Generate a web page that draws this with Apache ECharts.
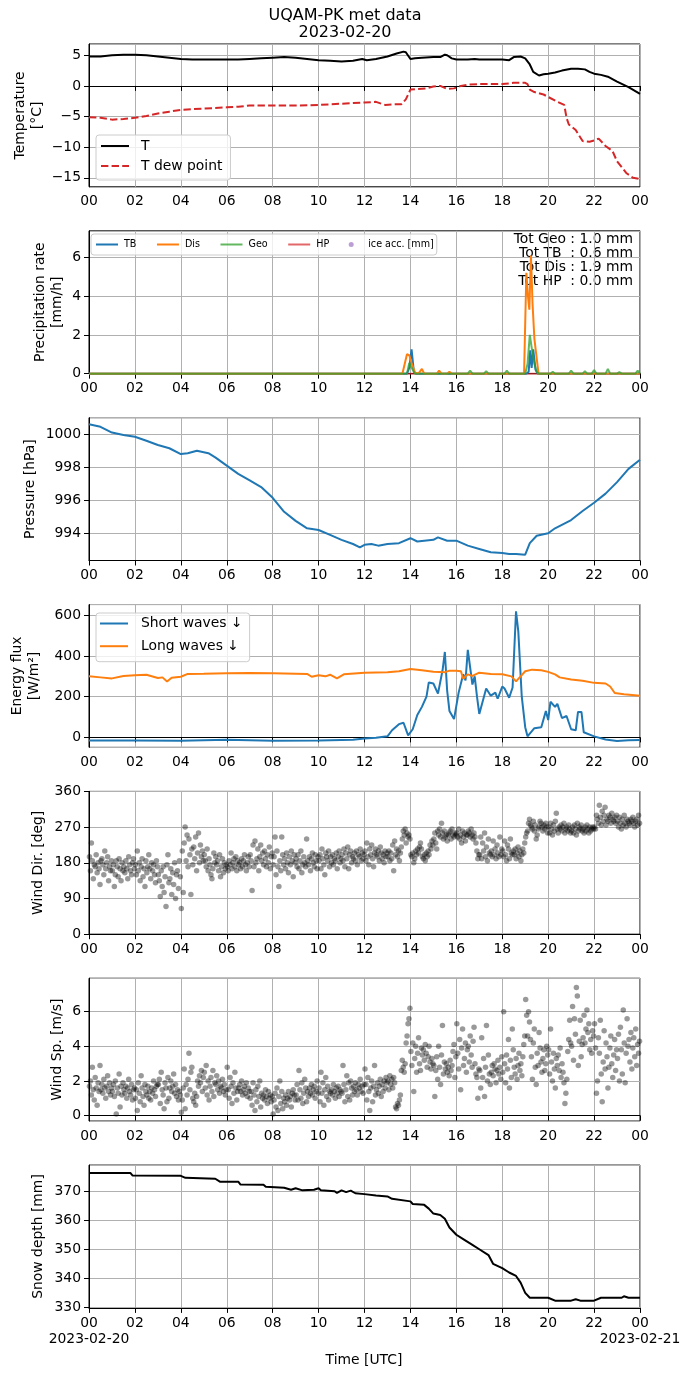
<!DOCTYPE html>
<html>
<head>
<meta charset="utf-8">
<script src="https://cdn.jsdelivr.net/npm/echarts@6/dist/echarts.min.js"></script>
<style>
    html, body { margin: 0; padding: 0; background: #fff; }
    #main { width: 690px; height: 1377px; }
</style>
</head>
<body>
<div id="main"></div>
<script>
// ---- data (hours UTC, 2023-02-20) ----
const tempHours = [0,0.5,1,1.5,2,2.5,3,3.5,4,4.5,5,5.5,6,6.5,7,7.5,8,8.5,9,9.5,10,10.5,11,11.5,11.9,12.1,12.5,13,13.4,13.7,13.8,14,14.2,14.5,15,15.3,15.5,15.6,15.8,16,16.5,16.8,17,17.5,18,18.3,18.5,18.8,19,19.2,19.35,19.6,19.8,20,20.3,20.6,21,21.3,21.6,21.8,22,22.3,22.6,23,23.5,24];
const tempValues = [4.8,4.8,5.0,5.1,5.1,5.0,4.8,4.6,4.4,4.3,4.3,4.3,4.3,4.3,4.4,4.5,4.6,4.7,4.6,4.4,4.2,4.1,4.0,4.1,4.4,4.2,4.4,4.8,5.3,5.6,5.5,4.4,4.5,4.6,4.7,4.7,5.1,5.0,4.5,4.3,4.3,4.4,4.3,4.3,4.3,4.2,4.7,4.8,4.5,3.5,2.3,1.7,1.9,2.0,2.2,2.5,2.8,2.8,2.7,2.3,2.0,1.8,1.5,0.7,-0.2,-1.3];

const dewHours = [0,0.5,1,1.5,2,2.5,3,3.5,4,4.5,5,5.5,6,6.5,7,8,9,10,11,11.5,12,12.5,12.9,13.3,13.6,13.8,14,14.3,14.7,15,15.3,15.6,15.9,16.2,16.5,17,18,18.5,19,19.1,19.2,19.4,19.8,20,20.4,20.7,20.8,20.9,21.2,21.5,21.8,22,22.2,22.5,22.8,23,23.4,23.7,24];
const dewValues = [-5.1,-5.2,-5.5,-5.4,-5.2,-4.9,-4.5,-4.2,-3.9,-3.8,-3.7,-3.6,-3.5,-3.4,-3.2,-3.2,-3.2,-3.1,-2.9,-2.8,-2.7,-2.6,-3.1,-3.0,-3.0,-2.2,-0.6,-0.5,-0.4,-0.1,0.0,-0.5,-0.4,0.0,0.2,0.3,0.3,0.5,0.5,0.3,-0.6,-1.0,-1.4,-1.8,-2.6,-3.1,-5.2,-6.3,-7.2,-9.0,-9.1,-8.9,-8.6,-9.8,-10.6,-12.3,-14.2,-15.0,-15.2];

const tbHours = [0,13.85,13.95,14.05,14.15,14.25,19.05,19.15,19.22,19.28,19.35,19.45,19.55,24];
const tbValues = [0,0,0.3,1.25,0.1,0,0,0.1,1.2,0.3,1.25,0.2,0,0];
const disHours = [0,13.65,13.75,13.85,13.95,14.05,14.2,14.35,14.5,14.6,15.15,15.25,15.35,15.6,15.7,15.8,18.95,19.05,19.12,19.18,19.25,19.32,19.4,19.48,19.58,24];
const disValues = [0,0,0.5,1.0,0.95,0.55,0.05,0,0.25,0,0,0.15,0,0,0.1,0,0,5.2,4.0,3.3,6.1,3.6,1.8,1.7,0,0];
const geoHours = [0,13.85,13.95,14.05,14.2,16.5,16.6,16.7,17.2,17.3,17.4,18.1,18.2,18.3,19.0,19.1,19.2,19.3,19.4,19.5,19.6,20.1,20.2,20.3,20.9,21.0,21.1,21.5,21.6,21.7,21.9,22.0,22.1,22.5,22.6,22.7,23.0,23.1,23.2,23.8,23.9,24];
const geoValues = [0,0,0.55,0.3,0,0,0.15,0,0,0.12,0,0,0.15,0,0,0.5,2.0,1.2,0.5,0.1,0,0,0.1,0,0,0.15,0,0,0.12,0,0,0.18,0,0,0.25,0,0,0.08,0,0,0.15,0];
const hpHours = [0,24];
const hpValues = [0,0];
const iceValues = [];
const precipTotals = ['Tot Geo : 1.0 mm', 'Tot TB  : 0.6 mm', 'Tot Dis : 1.9 mm', 'Tot HP  : 0.0 mm'];

const presHours = [0,0.5,1,1.5,2,2.5,3,3.5,4,4.3,4.7,5.2,5.5,6,6.5,7,7.5,8,8.5,9,9.5,10,10.5,11,11.5,11.8,12,12.3,12.6,13,13.5,14,14.3,15,15.2,15.6,16,16.5,17,17.5,18,18.3,18.6,19,19.2,19.5,20,20.3,21,21.5,22,22.5,23,23.5,24];
const presValues = [1000.6,1000.45,1000.1,999.95,999.85,999.6,999.35,999.15,998.8,998.85,999.0,998.85,998.6,998.1,997.6,997.2,996.8,996.15,995.3,994.75,994.3,994.2,993.9,993.6,993.35,993.15,993.3,993.35,993.25,993.35,993.4,993.7,993.5,993.6,993.75,993.55,993.55,993.25,993.05,992.85,992.8,992.75,992.75,992.7,993.4,993.85,994.0,994.3,994.8,995.35,995.85,996.4,997.1,997.9,998.45];

const swHours = [0,2,4,6,8,10,11.5,12,12.5,13,13.2,13.5,13.7,13.9,14.1,14.3,14.5,14.7,14.8,15.0,15.2,15.4,15.5,15.6,15.7,15.9,16.1,16.3,16.4,16.5,16.7,16.8,16.9,17.0,17.3,17.5,17.7,17.8,18.0,18.1,18.3,18.45,18.6,18.7,18.85,19.0,19.1,19.4,19.7,19.9,20.0,20.1,20.3,20.4,20.6,20.8,21.0,21.2,21.3,21.45,21.55,22,22.5,23,23.5,24];
const swValues = [-15,-15,-17,-12,-16,-15,-12,-5,-2,5,35,65,72,10,40,110,150,200,270,265,215,330,420,230,130,90,220,310,280,430,260,300,200,115,240,205,220,190,250,240,195,245,620,520,200,50,5,45,50,130,85,175,150,165,95,105,40,35,125,125,25,5,-10,-18,-14,-13];
const lwHours = [0,0.5,1,1.5,2,2.5,3,3.2,3.4,3.6,4,4.3,5,6,7,8,9,9.5,9.7,10,10.3,10.5,10.8,11.1,12,13,13.5,14,14.5,15,15.5,15.7,16,16.2,16.3,16.5,16.7,17,17.5,18,18.4,18.6,18.8,19.0,19.3,19.7,20,20.3,20.5,21,21.5,22,22.5,22.7,22.9,23.3,24];
const lwValues = [300,295,290,302,305,308,292,295,275,293,298,312,313,315,316,315,313,312,298,305,300,308,290,310,318,320,325,336,330,323,320,328,328,325,288,310,302,318,312,310,300,275,300,325,333,330,322,310,295,285,278,268,265,250,218,212,205];

// wind: 24 readings per hour (every 2.5 min), one row per hour
const windDirRows = [
    [195,160,230,185,140,175,170,200,155,180,165,125,185,190,175,150,210,165,180,195,135,170,160,185],
    [160,175,120,150,185,170,145,190,165,135,180,160,170,155,185,165,140,195,175,160,150,180,190,165],
    [175,150,210,160,180,135,170,190,145,165,120,185,155,170,200,165,140,180,160,175,150,130,185,170],
    [150,135,95,160,120,170,105,145,70,175,200,130,140,165,100,155,125,180,90,150,160,115,185,145],
    [65,210,105,230,270,185,250,170,240,200,100,215,175,220,190,245,160,205,255,180,225,195,210,185],
    [200,185,170,215,160,190,175,150,140,165,205,180,195,175,185,160,200,145,170,190,155,180,165,175],
    [170,160,185,175,205,165,180,190,170,195,160,185,175,180,165,190,170,185,200,175,160,180,195,170],
    [200,185,110,225,170,235,180,190,215,160,195,225,185,205,175,210,190,170,200,180,220,165,195,205],
    [175,195,245,150,210,170,120,185,160,245,200,175,190,165,205,180,155,195,175,210,185,145,200,180],
    [190,170,200,165,185,210,155,175,195,180,170,240,185,175,195,160,190,205,180,170,200,185,165,195],
    [185,200,165,215,190,175,150,205,195,185,210,170,195,180,200,175,190,185,205,165,195,210,180,190],
    [200,185,215,170,205,190,220,165,200,210,180,195,190,205,185,210,175,200,195,215,185,205,190,200],
    [210,185,230,195,175,215,200,225,190,170,205,215,200,195,210,185,220,205,190,200,180,210,195,205],
    [195,210,185,205,190,225,160,235,200,215,195,210,185,205,220,240,260,250,265,230,255,245,250,240],
    [200,195,205,180,190,210,200,215,205,220,230,215,195,190,200,185,205,195,210,200,225,215,235,225],
    [240,255,230,215,260,250,265,245,280,255,240,260,245,250,235,250,255,260,240,265,250,245,255,250],
    [255,245,265,240,250,230,260,245,255,235,250,250,260,255,245,265,250,240,255,245,230,210,190,200],
    [200,245,190,230,210,255,195,220,185,240,205,200,210,195,235,200,215,190,225,205,195,245,200,215],
    [210,195,235,200,185,225,215,190,240,205,200,210,200,215,190,205,220,195,210,185,200,215,205,230],
    [245,255,260,280,290,275,270,265,285,260,275,240,250,265,270,285,280,270,260,275,265,280,270,255],
    [270,255,280,265,250,275,260,285,305,265,255,270,265,275,260,270,280,255,265,270,260,275,265,255],
    [260,270,255,275,265,250,280,260,270,265,275,260,265,255,270,260,275,265,255,270,260,265,270,265],
    [270,265,300,290,280,325,295,275,310,285,300,320,275,290,285,300,295,280,305,290,285,295,280,300],
    [285,270,295,280,265,290,275,300,280,270,290,285,280,275,290,285,295,280,270,285,290,275,300,280]
];
const windSpRows = [
    [1.7,2.0,1.2,2.8,1.5,0.9,2.2,1.6,0.6,1.9,1.4,2.9,1.5,1.8,1.3,2.1,1.6,1.0,1.7,2.3,1.4,1.9,1.2,1.6],
    [1.4,1.8,1.1,2.0,0.1,1.6,1.3,2.4,0.5,1.7,1.2,1.9,1.5,1.3,1.7,1.0,1.6,2.1,1.4,1.2,1.8,0.9,1.5,1.6],
    [1.0,1.5,0.3,1.9,1.3,0.8,2.3,1.6,1.1,0.6,1.8,1.4,1.2,1.7,1.0,1.4,0.9,1.6,1.3,2.0,1.5,1.1,1.7,1.8],
    [1.8,2.1,0.7,2.5,1.5,1.2,0.4,1.9,1.6,0.8,2.2,1.0,1.6,2.0,1.4,1.7,2.4,1.3,1.8,1.1,1.5,0.9,1.4,1.2],
    [0.2,0.9,1.6,2.7,0.4,1.8,1.2,2.1,3.6,1.5,2.5,2.8,1.0,0.8,1.3,0.6,1.1,2.0,1.7,2.3,1.9,2.6,1.4,2.2],
    [2.5,1.6,2.9,1.2,2.0,0.9,1.7,2.2,1.4,2.6,1.1,1.9,1.8,2.3,1.5,2.0,1.3,1.7,1.6,2.1,1.4,1.8,1.2,1.5],
    [2.8,1.5,1.0,2.2,1.7,0.7,1.9,1.3,2.5,1.6,0.9,1.4,1.6,1.8,1.4,2.0,1.2,1.5,1.7,1.3,1.9,1.1,1.6,1.4],
    [1.0,1.4,0.6,1.9,1.2,0.3,1.5,0.8,1.7,1.1,2.0,0.5,1.3,1.0,1.2,0.9,1.5,1.1,0.7,1.4,1.0,1.2,0.8,1.1],
    [0.1,0.9,1.3,0.5,1.6,0.3,1.1,2.0,0.7,1.4,0.4,1.0,0.8,1.2,0.6,1.0,1.4,0.9,1.1,0.5,1.3,1.5,1.2,0.9],
    [1.2,1.8,0.9,2.6,1.5,1.0,1.9,0.7,1.3,2.1,1.6,0.8,1.4,1.1,1.6,1.3,1.8,1.2,1.5,1.7,1.0,1.4,2.0,1.3],
    [1.6,0.8,2.5,1.3,1.9,0.6,1.5,2.2,1.1,1.7,0.9,1.4,1.3,1.5,1.2,1.8,1.4,1.0,1.6,1.3,1.7,1.1,1.5,1.4],
    [1.3,2.9,1.8,0.8,1.5,2.3,1.1,1.9,0.9,2.0,1.6,1.2,1.7,1.4,1.9,1.5,1.2,1.8,1.6,2.1,1.4,1.7,1.3,1.8],
    [2.7,1.8,0.9,2.2,1.4,0.3,1.6,2.0,0.8,1.7,2.9,1.2,1.5,1.9,1.3,1.7,2.1,1.1,1.8,1.4,2.0,1.6,2.2,1.9],
    [2.0,1.5,2.3,1.8,2.1,1.6,2.2,1.9,0.5,0.4,0.7,0.6,0.9,1.2,2.6,3.2,2.8,2.5,3.0,4.2,4.6,5.3,5.6,6.2],
    [3.7,2.9,4.2,1.4,3.3,4.0,2.5,3.6,4.5,3.0,2.6,3.9,3.5,3.8,3.2,4.1,3.6,2.8,3.4,4.0,3.1,2.7,3.3,3.0],
    [2.9,1.1,2.6,3.4,2.1,4.0,2.8,1.8,3.5,5.2,2.4,3.1,2.7,3.0,2.5,2.8,2.3,3.2,2.6,2.9,3.7,4.1,2.2,3.4],
    [5.3,3.6,2.7,4.4,1.5,3.9,5.0,2.9,3.3,4.2,2.5,3.8,4.0,3.1,4.6,3.5,2.8,4.3,5.1,3.0,2.4,2.2,1.0,2.7],
    [2.6,1.6,4.5,2.2,3.3,1.1,2.8,5.2,2.0,3.5,2.4,1.8,2.5,2.9,2.3,3.0,2.7,1.9,2.6,3.2,2.4,2.8,2.1,3.4],
    [2.5,6.0,3.0,1.9,3.5,2.7,4.4,1.6,3.2,2.2,5.0,3.8,2.8,2.4,3.3,2.1,2.9,3.6,2.6,3.0,2.3,3.4,4.1,4.6],
    [6.7,5.8,4.6,6.0,5.4,4.4,3.4,2.1,4.2,5.0,2.8,1.8,3.6,2.9,4.8,3.9,3.1,2.5,3.3,3.8,2.6,3.0,4.0,3.5],
    [3.8,2.4,5.0,3.1,2.0,3.6,2.7,1.6,3.3,2.9,3.5,2.6,3.9,2.2,3.0,2.5,1.9,0.7,1.3,2.1,3.7,4.4,5.5,4.2],
    [4.0,6.3,3.2,5.6,4.7,7.4,6.9,2.9,4.3,5.5,3.4,4.1,4.5,5.8,4.2,5.0,6.1,4.8,5.3,3.8,4.4,3.6,4.9,4.6],
    [5.3,3.9,1.3,2.0,4.5,3.6,5.5,2.4,0.8,3.1,4.9,2.7,4.2,3.4,1.6,2.8,3.9,4.6,3.0,2.2,3.5,4.4,2.6,3.8],
    [3.3,4.7,2.0,5.1,3.8,2.4,6.1,4.2,1.9,3.6,5.6,4.0,4.4,3.1,4.8,2.7,3.9,4.5,3.4,5.0,2.9,4.1,3.6,4.3]
];

const snowHours = [0,1.8,1.9,4.0,4.2,5.5,5.7,6.5,6.6,7.6,7.7,8.5,8.8,9.0,9.3,9.8,10.0,10.1,10.7,10.8,11.0,11.2,11.4,11.6,12.0,12.5,13.0,13.2,14.0,14.1,14.6,14.8,15.0,15.3,15.5,15.7,16.0,16.3,16.7,17.0,17.4,17.6,18.0,18.3,18.6,18.8,19.0,19.2,20.0,20.3,21.0,21.2,21.4,22.0,22.3,23.2,23.3,23.5,24];
const snowValues = [376.3,376.3,375.4,375.3,374.6,374.3,373.3,373.3,372.3,372.2,371.5,371.2,370.5,371.0,370.3,370.5,371.0,370.3,370.0,369.4,370.3,369.7,370.2,369.3,369.0,368.5,368.2,367.4,366.5,365.6,365.3,364.0,362.3,361.8,360.5,357.5,355.0,353.5,351.5,350.0,348.0,345.0,343.5,342.0,340.8,338.5,335.0,333.3,333.3,332.3,332.3,332.8,332.3,332.3,333.3,333.3,333.8,333.3,333.3];

const dayLabels = ['2023-02-20', '2023-02-21'];

// ---- helpers ----
const FONT = 'DejaVu Sans';

function zip(xs, ys) {
    let out = [];
    let n = Math.min(xs.length, ys.length);
    for (let i = 0; i < n; i++) out.push([xs[i], ys[i]]);
    return out;
}

function spreadRows(rows) {
    let out = [];
    rows.forEach(function (row, h) {
        row.forEach(function (v, i) {
            out.push([h + (i + 0.5) / row.length, v]);
        });
    });
    return out;
}

function pad2(v) {
    let h = Math.round(v) % 24;
    return (h < 10 ? '0' : '') + h;
}

function yFmt(v) {
    let r = Math.round(v * 1000) / 1000;
    return String(r).replace('-', '\u2212');
}

const nPanels = 7;
const gridTops = [];
for (let i = 0; i < nPanels; i++) gridTops.push(44 + i * 186.85);
const gridHeight = 142.8;
const plotLeft = 89, plotWidth = 551;

const grids = gridTops.map(function (t) {
    return {
        left: plotLeft, width: plotWidth, top: t, height: gridHeight,
        show: true, borderColor: '#000', borderWidth: 1, backgroundColor: '#fff'
    };
});

const xAxes = gridTops.map(function (t, i) {
    return {
        type: 'value', gridIndex: i, min: 0, max: 24, interval: 2,
        axisLine: { show: true, lineStyle: { color: '#000', width: 1 } },
        axisTick: { show: true, length: 5, lineStyle: { color: '#000', width: 1 } },
        splitLine: { show: true, lineStyle: { color: '#b0b0b0', width: 1 } },
        axisLabel: {
            color: '#000', fontSize: 13.9, fontFamily: FONT, margin: 8,
            showMinLabel: true, showMaxLabel: true, hideOverlap: false,
            formatter: pad2
        }
    };
});

function yAxis(i, min, max, extra) {
    let ax = {
        type: 'value', gridIndex: i, min: min, max: max,
        axisLine: { show: true, lineStyle: { color: '#000', width: 1 } },
        axisTick: { show: true, length: 5, lineStyle: { color: '#000', width: 1 } },
        splitLine: { show: true, lineStyle: { color: '#b0b0b0', width: 1 } },
        axisLabel: {
            color: '#000', fontSize: 13.9, fontFamily: FONT, margin: 8,
            showMinLabel: false, showMaxLabel: false, formatter: yFmt
        }
    };
    return Object.assign(ax, extra);
}

const yAxes = [
    yAxis(0, -16.46, 6.84, { splitNumber: 5 }),
    yAxis(1, 0, 7.37, { interval: 2 }),
    yAxis(2, 992.35, 1001.0, { splitNumber: 5 }),
    yAxis(3, -49, 653, { splitNumber: 4 }),
    yAxis(4, 0, 360, { interval: 90 }),
    yAxis(5, -0.31, 7.93, { splitNumber: 5 }),
    yAxis(6, 329.8, 379, { splitNumber: 5 })
];
yAxes[1].axisLabel.showMinLabel = true;
yAxes[4].axisLabel.showMinLabel = true;
yAxes[4].axisLabel.showMaxLabel = true;

function lineSeries(name, idx, data, color, extraStyle) {
    return {
        name: name, type: 'line', xAxisIndex: idx, yAxisIndex: idx,
        data: data, symbol: 'none', showSymbol: false,
        lineStyle: Object.assign({ color: color, width: 2 }, extraStyle || {}),
        itemStyle: { color: color }
    };
}

function scatterSeries(name, idx, data) {
    return {
        name: name, type: 'scatter', xAxisIndex: idx, yAxisIndex: idx,
        data: data, symbolSize: 5.5,
        itemStyle: { color: 'rgba(0,0,0,0.5)' }
    };
}

const series = [
    lineSeries('T', 0, zip(tempHours, tempValues), '#000000'),
    lineSeries('T dew point', 0, zip(dewHours, dewValues), '#d62728', { type: [7.4, 3.2] }),
    lineSeries('HP', 1, zip(hpHours, hpValues), 'rgba(214,39,40,0.7)'),
    lineSeries('TB', 1, zip(tbHours, tbValues), '#1f77b4'),
    lineSeries('Dis', 1, zip(disHours, disValues), '#ff7f0e'),
    lineSeries('Geo', 1, zip(geoHours, geoValues), 'rgba(44,160,44,0.75)'),
    {
        name: 'ice acc. [mm]', type: 'scatter', xAxisIndex: 1, yAxisIndex: 1,
        data: iceValues, symbolSize: 5, itemStyle: { color: 'rgba(148,103,189,0.8)' }
    },
    lineSeries('Pressure', 2, zip(presHours, presValues), '#1f77b4'),
    lineSeries('Short waves \u2193', 3, zip(swHours, swValues), '#1f77b4'),
    lineSeries('Long waves \u2193', 3, zip(lwHours, lwValues), '#ff7f0e'),
    scatterSeries('Wind Dir', 4, spreadRows(windDirRows)),
    scatterSeries('Wind Sp', 5, spreadRows(windSpRows)),
    lineSeries('Snow depth', 6, zip(snowHours, snowValues), '#000000')
];

// legend line handles only: hide the symbol that line series put in the middle
const noMark = { color: 'rgba(0,0,0,0)', borderWidth: 0 };

const legendBase = {
    orient: 'vertical', itemWidth: 28, itemHeight: 14,
    borderColor: '#cccccc', borderWidth: 1, borderRadius: 3,
    backgroundColor: 'rgba(255,255,255,0.8)',
    selectedMode: false, itemStyle: noMark
};

const legends = [
    Object.assign({}, legendBase, {
        data: ['T', 'T dew point'], left: 96, top: 135, itemGap: 6,
        padding: [4, 8, 7, 4],
        textStyle: { color: '#000', fontSize: 13.9, fontFamily: FONT, lineHeight: 14, padding: [0, 0, 0, 7] }
    }),
    Object.assign({}, legendBase, {
        data: ['TB', 'Dis', 'Geo', 'HP',
            { name: 'ice acc. [mm]', itemStyle: { color: 'rgba(148,103,189,0.8)' } }],
        orient: 'horizontal',
        left: 91, top: 234, itemWidth: 22, itemHeight: 5, itemGap: 19.5,
        padding: [5, 3, 5, 4],
        textStyle: { color: '#000', fontSize: 9.6, fontFamily: FONT, lineHeight: 11, padding: [0, 0, 0, 1] }
    }),
    Object.assign({}, legendBase, {
        data: ['Short waves \u2193', 'Long waves \u2193'], left: 96, top: 613, itemGap: 7.7,
        padding: [3, 7, 8, 3],
        textStyle: { color: '#000', fontSize: 13.9, fontFamily: FONT, lineHeight: 15, padding: [0, 0, 0, 8] }
    })
];

function rotLabel(text, x, y) {
    return {
        type: 'text', x: x, y: y, rotation: Math.PI / 2,
        style: {
            text: text, fill: '#000', font: '13.9px "' + FONT + '"',
            textAlign: 'center', textVerticalAlign: 'middle', lineHeight: 17
        }
    };
}

function plainText(text, x, y, align, size) {
    return {
        type: 'text', x: x, y: y,
        style: {
            text: text, fill: '#000', font: size + 'px "' + FONT + '"',
            textAlign: align, textVerticalAlign: 'middle'
        }
    };
}

const bottomAxisY = gridTops[nPanels - 1] + gridHeight;
const graphics = [
    plainText('UQAM-PK met data', 345, 16, 'center', 16),
    plainText('2023-02-20', 345, 33, 'center', 16),
    rotLabel('Temperature\n[\u00b0C]', 29, gridTops[0] + gridHeight / 2),
    rotLabel('Precipitation rate\n[mm/h]', 49, gridTops[1] + gridHeight / 2),
    rotLabel('Pressure [hPa]', 30, gridTops[2] + gridHeight / 2),
    rotLabel('Energy flux\n[W/m\u00b2]', 26, gridTops[3] + gridHeight / 2),
    rotLabel('Wind Dir. [deg]', 38, gridTops[4] + gridHeight / 2),
    rotLabel('Wind Sp. [m/s]', 57, gridTops[5] + gridHeight / 2),
    rotLabel('Snow depth [mm]', 38, gridTops[6] + gridHeight / 2),
    plainText(dayLabels[0], plotLeft, bottomAxisY + 31, 'center', 13.9),
    plainText(dayLabels[1], plotLeft + plotWidth, bottomAxisY + 31, 'center', 13.9),
    plainText('Time [UTC]', 364, 1360, 'center', 13.9)
];
precipTotals.forEach(function (s, k) {
    graphics.push(plainText(s, 633, 239.5 + k * 14, 'right', 13.9));
});

let chart = echarts.init(document.getElementById('main'), null, { renderer: 'canvas' });
chart.setOption({
    animation: false,
    backgroundColor: '#fff',
    textStyle: { fontFamily: FONT },
    grid: grids,
    xAxis: xAxes,
    yAxis: yAxes,
    legend: legends,
    series: series,
    graphic: graphics
});
</script>
</body>
</html>
